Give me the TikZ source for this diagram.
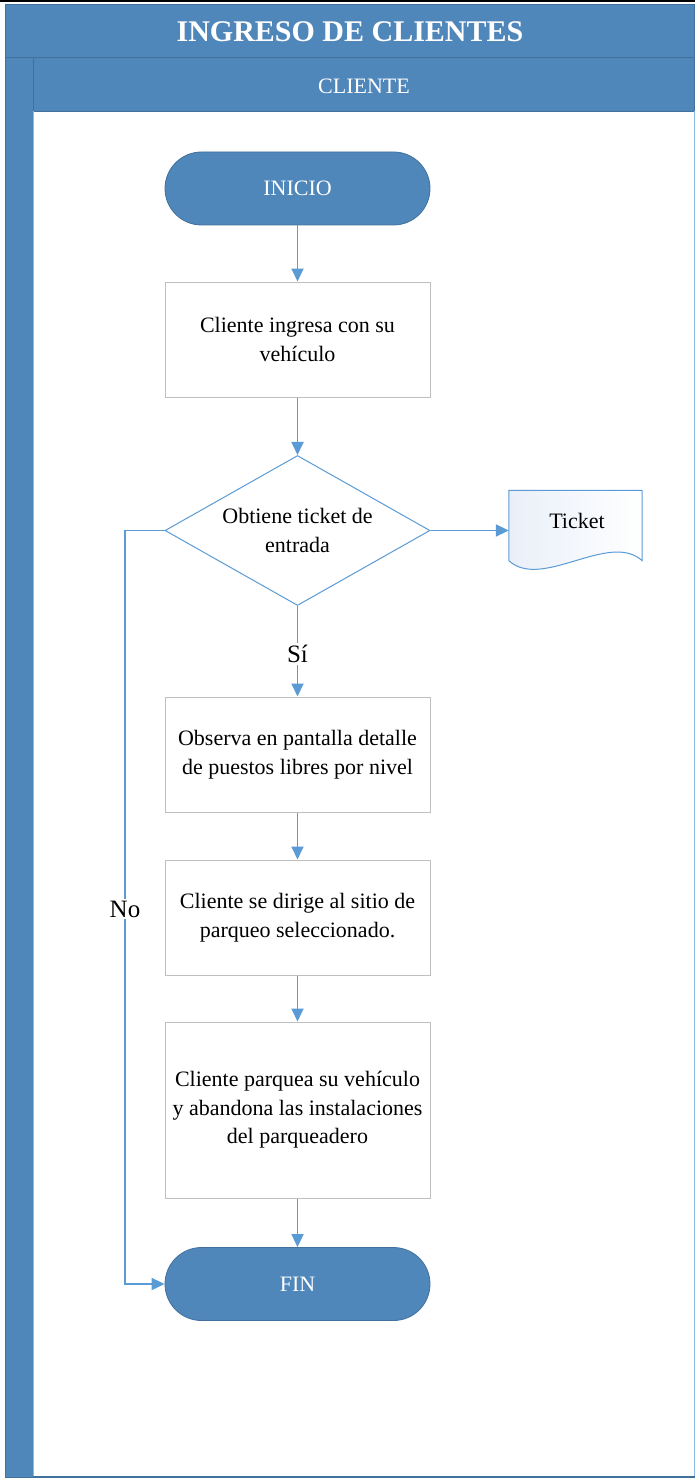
\documentclass[tikz,border=0pt]{standalone}
\usepackage{fontspec}
\setmainfont{Liberation Serif}
\usetikzlibrary{arrows.meta,shapes.geometric,positioning}
\definecolor{band}{HTML}{4F87BA}
\definecolor{bandedge}{HTML}{41719C}
\definecolor{flow}{HTML}{5B9BD5}
\definecolor{boxedge}{HTML}{BFBFBF}
\definecolor{docfill}{HTML}{E9EFF9}
\tikzset{
  every node/.style={font=\fontsize{22}{28.5}\selectfont, align=center},
  terminal/.style={rectangle, rounded corners=36.5pt, fill=band, draw=bandedge, line width=0.8pt,
    minimum width=265pt, minimum height=73pt, text=white, inner sep=0pt},
  stepbox/.style={rectangle, draw=boxedge, line width=1pt, fill=white,
    minimum width=265pt, inner sep=0pt},
  decision/.style={diamond, draw=flow, line width=1pt, fill=white, aspect=1.77,
    minimum width=265pt, minimum height=150pt, inner sep=0pt},
  link/.style={draw=flow, line width=1.8pt, -{Triangle[length=13pt,width=12pt]}},
  branchlabel/.style={fill=white, font=\fontsize{25}{28}\selectfont, inner sep=2pt},
}
\begin{document}
\begin{tikzpicture}[x=1pt,y=-1pt]
\useasboundingbox (0,0) rectangle (695,1479);
% frame and swimlane
\fill[black] (0,0) rectangle (695,2.5);
\fill[white] (5,3) rectangle (695,1479);
\draw[fill=band, draw=bandedge, line width=0.8pt] (5.5,4.5) rectangle (694.5,57.5);
\draw[fill=band, draw=bandedge, line width=0.8pt] (5.5,57.5) rectangle (33,1477);
\draw[fill=band, draw=bandedge, line width=0.8pt] (33,57.5) rectangle (694.5,111.5);
\draw[draw=flow!70, line width=1pt] (33.5,111.5) -- (33.5,1476) (694,111.5) -- (694,1476);
\fill[bandedge] (33,1475.5) rectangle (695,1478);
\node[text=white, font=\fontsize{30}{34}\selectfont\bfseries] (title) at (350,32) {INGRESO DE CLIENTES};
\node[text=white] (lane) at (364,86) {CLIENTE};

% flow nodes
\node[terminal] (start) at (297.5,188.5) {INICIO};
\node[stepbox, minimum height=115pt] (s1) at (297.5,339.5) {Cliente ingresa con su\\vehículo};
\node[decision] (dec) at (297.5,530.5) {Obtiene ticket de\\entrada};
\node[stepbox, minimum height=115pt] (s2) at (297.5,754.5) {Observa en pantalla detalle\\de puestos libres por nivel};
\node[stepbox, minimum height=115pt] (s3) at (297.5,917.5) {Cliente se dirige al sitio de\\parqueo seleccionado.};
\node[stepbox, minimum height=176pt] (s4) at (297.5,1110) {Cliente parquea su vehículo\\y abandona las instalaciones\\del parqueadero};
\node[terminal] (end) at (297.5,1284) {FIN};

% ticket document
\node[minimum width=133pt, minimum height=70pt, inner sep=0pt] (ticket) at (575.5,525.5) {};
\draw[draw=flow, line width=1pt, left color=docfill, right color=white]
  (ticket.north west) -- (ticket.south west)
  .. controls ++(33,30) and ++(-33,-30) .. (ticket.south east)
  -- (ticket.north east) -- cycle;
\node at (577,521) {Ticket};

% connectors
\path[link] (start) -- (s1);
\path[link] (s1) -- (dec);
\path[link] (dec.east) -- (dec.east -| ticket.west);
\path[link] (dec) -- (s2) node[branchlabel, pos=0.53] (yes) {Sí};
\path[link] (s2) -- (s3);
\path[link] (s3) -- (s4);
\path[link] (s4) -- (end);
\coordinate (bend1) at (125,530.5);
\coordinate (bend2) at (125,1284);
\path[link] (dec.west) -- (bend1) -- (bend2) -- (end.west);
\node[branchlabel] (no) at (125,909) {No};
\end{tikzpicture}
\end{document}
